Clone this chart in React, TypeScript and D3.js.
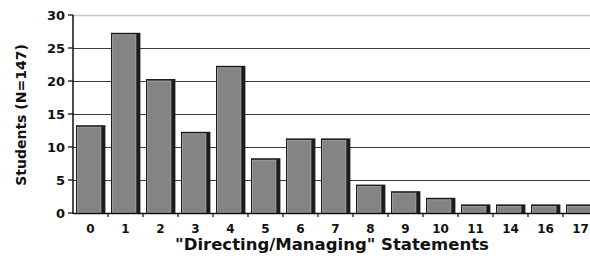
import React, { useRef, useEffect } from 'react';
import * as d3 from 'd3';

const categories = ['0', '1', '2', '3', '4', '5', '6', '7', '8', '9', '10', '11', '14', '16', '17'];
const students = [13, 27, 20, 12, 22, 8, 11, 11, 4, 3, 2, 1, 1, 1, 1];
const yTicks = [0, 5, 10, 15, 20, 25, 30];

const App = () => {
    const ref = useRef<SVGSVGElement | null>(null);

    useEffect(() => {
        if (!ref.current) return;
        const svg = d3.select(ref.current);
        svg.selectAll('*').remove();

        const left = 73, right = 598, top = 15, bottom = 213;
        const font = '"DejaVu Sans", Arial, sans-serif';

        const x = d3.scaleBand().domain(categories).range([left, right]).paddingInner(0).paddingOuter(0);
        const y = d3.scaleLinear().domain([0, 30]).range([bottom, top]);

        // grid
        svg.append('g')
            .selectAll('line')
            .data(yTicks.filter(d => d > 0))
            .enter()
            .append('line')
            .attr('x1', left)
            .attr('x2', 590)
            .attr('y1', d => y(d) + 0.5)
            .attr('y2', d => y(d) + 0.5)
            .attr('stroke', d => (d === 30 ? '#c4c4c4' : '#3a3a3a'))
            .attr('stroke-width', d => (d === 30 ? 1.5 : 1.2));

        // bars
        const bw = x.bandwidth();
        const barW = bw * 0.84;
        const g = svg.append('g');
        categories.forEach((c, i) => {
            const x0 = (x(c) as number) + 3;
            const yt = y(students[i]);
            g.append('rect')
                .attr('x', x0)
                .attr('y', yt - 2)
                .attr('width', barW)
                .attr('height', bottom - yt + 2)
                .attr('fill', '#1c1c1c');
            g.append('rect')
                .attr('x', x0 + 1.5)
                .attr('y', yt)
                .attr('width', barW - 6)
                .attr('height', bottom - yt)
                .attr('fill', '#848484')
                .attr('stroke', '#adadad')
                .attr('stroke-width', 0.8);
        });

        // y axis
        const ya = svg.append('g');
        ya.append('line')
            .attr('x1', left).attr('x2', left)
            .attr('y1', top).attr('y2', bottom + 1)
            .attr('stroke', '#111').attr('stroke-width', 1.5);
        ya.selectAll('line.tick')
            .data(yTicks)
            .enter()
            .append('line')
            .attr('class', 'tick')
            .attr('x1', left - 5).attr('x2', left)
            .attr('y1', d => y(d)).attr('y2', d => y(d))
            .attr('stroke', '#111').attr('stroke-width', 1.3);
        ya.selectAll('text')
            .data(yTicks)
            .enter()
            .append('text')
            .attr('x', 65)
            .attr('y', d => y(d) + 5)
            .attr('text-anchor', 'end')
            .attr('font-family', font)
            .attr('font-weight', 'bold')
            .attr('font-size', 13)
            .attr('fill', '#111')
            .text(d => d);

        // x axis
        const xa = svg.append('g');
        xa.append('line')
            .attr('x1', left).attr('x2', 590)
            .attr('y1', bottom + 0.5).attr('y2', bottom + 0.5)
            .attr('stroke', '#111').attr('stroke-width', 1.5);
        xa.selectAll('line.tick')
            .data(categories)
            .enter()
            .append('line')
            .attr('class', 'tick')
            .attr('x1', d => (x(d) as number) + bw)
            .attr('x2', d => (x(d) as number) + bw)
            .attr('y1', bottom).attr('y2', bottom + 4)
            .attr('stroke', '#111').attr('stroke-width', 1.2);
        xa.selectAll('text')
            .data(categories)
            .enter()
            .append('text')
            .attr('x', d => (x(d) as number) + bw / 2)
            .attr('y', 233)
            .attr('text-anchor', 'middle')
            .attr('font-family', font)
            .attr('font-weight', 'bold')
            .attr('font-size', 12)
            .attr('fill', '#111')
            .text(d => d);

        svg.append('text')
            .attr('x', 332)
            .attr('y', 250)
            .attr('text-anchor', 'middle')
            .attr('font-family', font)
            .attr('font-weight', 'bold')
            .attr('font-size', 16.5)
            .attr('fill', '#111')
            .text('"Directing/Managing" Statements');

        svg.append('text')
            .attr('transform', `translate(26,115) rotate(-90)`)
            .attr('text-anchor', 'middle')
            .attr('font-family', font)
            .attr('font-weight', 'bold')
            .attr('font-size', 14)
            .attr('fill', '#111')
            .text('Students (N=147)');
    }, []);

    return (
        <svg
            ref={ref}
            width={590}
            height={263}
            style={{ position: 'absolute', left: 0, top: 0, background: '#fff' }}
        />
    );
};

export default App;
